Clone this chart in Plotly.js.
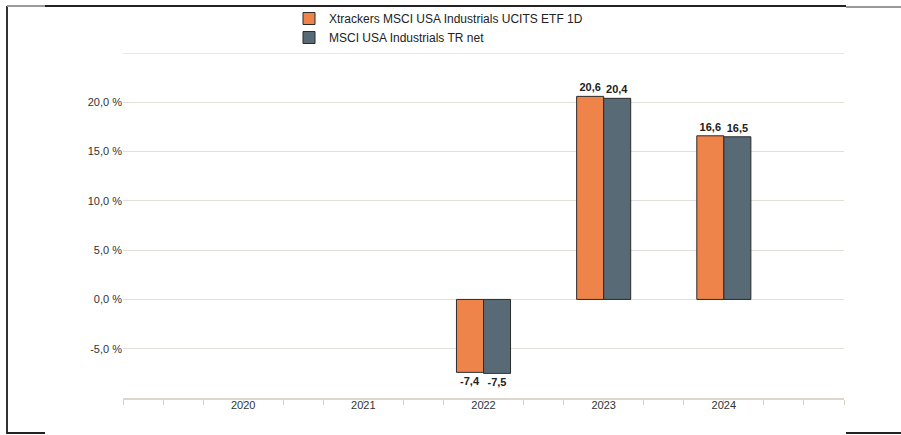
<!DOCTYPE html>
<html>
<head>
<meta charset="utf-8">
<script src="https://cdn.plot.ly/plotly-3.0.1.min.js"></script>
<style>
  html, body { margin: 0; padding: 0; background: #fff; }
  #chart { width: 901px; height: 435px; }
</style>
</head>
<body>
<div id="chart"></div>
<script>
// ---- data ----
const years = ['2020', '2021', '2022', '2023', '2024'];
const etfName = 'Xtrackers MSCI USA Industrials UCITS ETF 1D';
const indexName = 'MSCI USA Industrials TR net';
const etfValues = [null, null, -7.4, 20.6, 16.6];
const indexValues = [null, null, -7.5, 20.4, 16.5];
const yTickVals = [-10, -5, 0, 5, 10, 15, 20, 25];
const yTickText = ['', '-5,0 %', '0,0 %', '5,0 %', '10,0 %', '15,0 %', '20,0 %', ''];

// ---- layout helpers (pixel -> paper) ----
const W = 901, H = 435;
const M = { l: 123, r: 57, t: 53, b: 37, autoexpand: false };
const pw = W - M.l - M.r, ph = H - M.t - M.b;
const px = v => (v - M.l) / pw;
const py = v => (H - M.b - v) / ph;

const xNum = years.map(Number);
const font = 'Liberation Sans, Arial, sans-serif';
const gridColor = '#e2dfd9';

const traces = [
  {
    type: 'bar', name: etfName, x: xNum, y: etfValues,
    marker: { color: '#EE8449', line: { color: '#2b2b2b', width: 1 } },
    text: etfValues.map(v => v == null ? '' : v.toFixed(1).replace('.', ',')),
    textposition: 'outside', cliponaxis: false,
    textfont: { family: font, size: 11, color: '#222', weight: 'bold' },
    hoverinfo: 'skip'
  },
  {
    type: 'bar', name: indexName, x: xNum, y: indexValues,
    marker: { color: '#586A75', line: { color: '#2b2b2b', width: 1 } },
    text: indexValues.map(v => v == null ? '' : v.toFixed(1).replace('.', ',')),
    textposition: 'outside', cliponaxis: false,
    textfont: { family: font, size: 11, color: '#222', weight: 'bold' },
    hoverinfo: 'skip'
  }
];

const lineBlack = { color: '#222', width: 2 };
const lineGrey = { color: '#9a9a9a', width: 2 };
const topGrid = yTickVals[yTickVals.length - 1];
const shapes = [
  { type: 'line', xref: 'paper', yref: 'y', x0: 0, x1: 1, y0: topGrid, y1: topGrid, line: { color: gridColor, width: 1.5 }, layer: 'below' },
  { type: 'line', xref: 'paper', yref: 'paper', x0: px(7), x1: px(7), y0: py(6), y1: py(434), line: { color: '#333', width: 2 } },
  { type: 'line', xref: 'paper', yref: 'paper', x0: px(7), x1: px(45), y0: py(6), y1: py(6), line: lineGrey },
  { type: 'line', xref: 'paper', yref: 'paper', x0: px(45), x1: px(846), y0: py(6), y1: py(6), line: lineBlack },
  { type: 'line', xref: 'paper', yref: 'paper', x0: px(846), x1: px(901), y0: py(7), y1: py(7), line: lineGrey },
  { type: 'line', xref: 'paper', yref: 'paper', x0: px(7), x1: px(45), y0: py(433), y1: py(433), line: lineBlack },
  { type: 'line', xref: 'paper', yref: 'paper', x0: px(846), x1: px(901), y0: py(433), y1: py(433), line: lineBlack }
];

const layout = {
  width: W, height: H,
  margin: M,
  paper_bgcolor: '#fff', plot_bgcolor: '#fff',
  font: { family: font, size: 11, color: '#333' },
  barmode: 'group', bargap: 0.55, bargroupgap: 0,
  showlegend: true,
  legend: {
    orientation: 'v', x: px(289), xanchor: 'left', y: py(4), yanchor: 'top',
    font: { family: font, size: 12, color: '#222' },
    bgcolor: 'rgba(0,0,0,0)', tracegroupgap: 0, traceorder: 'normal'
  },
  xaxis: {
    type: 'linear', range: [2019, 2025], fixedrange: true,
    tickvals: xNum, ticktext: years, ticks: '',
    showgrid: false, zeroline: false,
    showline: true, linecolor: '#dcd6cc', linewidth: 2,
    ticklabelstandoff: -4,
    minor: { ticks: 'outside', ticklen: 5, tickwidth: 1, tickcolor: '#d6d0c6', tick0: 2019, dtick: 1 / 3, showgrid: false },
    tickfont: { family: font, size: 11, color: '#333' }
  },
  yaxis: {
    range: [-10, 25], fixedrange: true,
    tickvals: yTickVals, ticktext: yTickText, ticks: '',
    showgrid: true, gridcolor: gridColor, gridwidth: 1,
    zeroline: false, showline: false,
    tickfont: { family: font, size: 11, color: '#333' }
  },
  shapes: shapes
};

Plotly.newPlot('chart', traces, layout, { staticPlot: true, displayModeBar: false });
</script>
</body>
</html>
